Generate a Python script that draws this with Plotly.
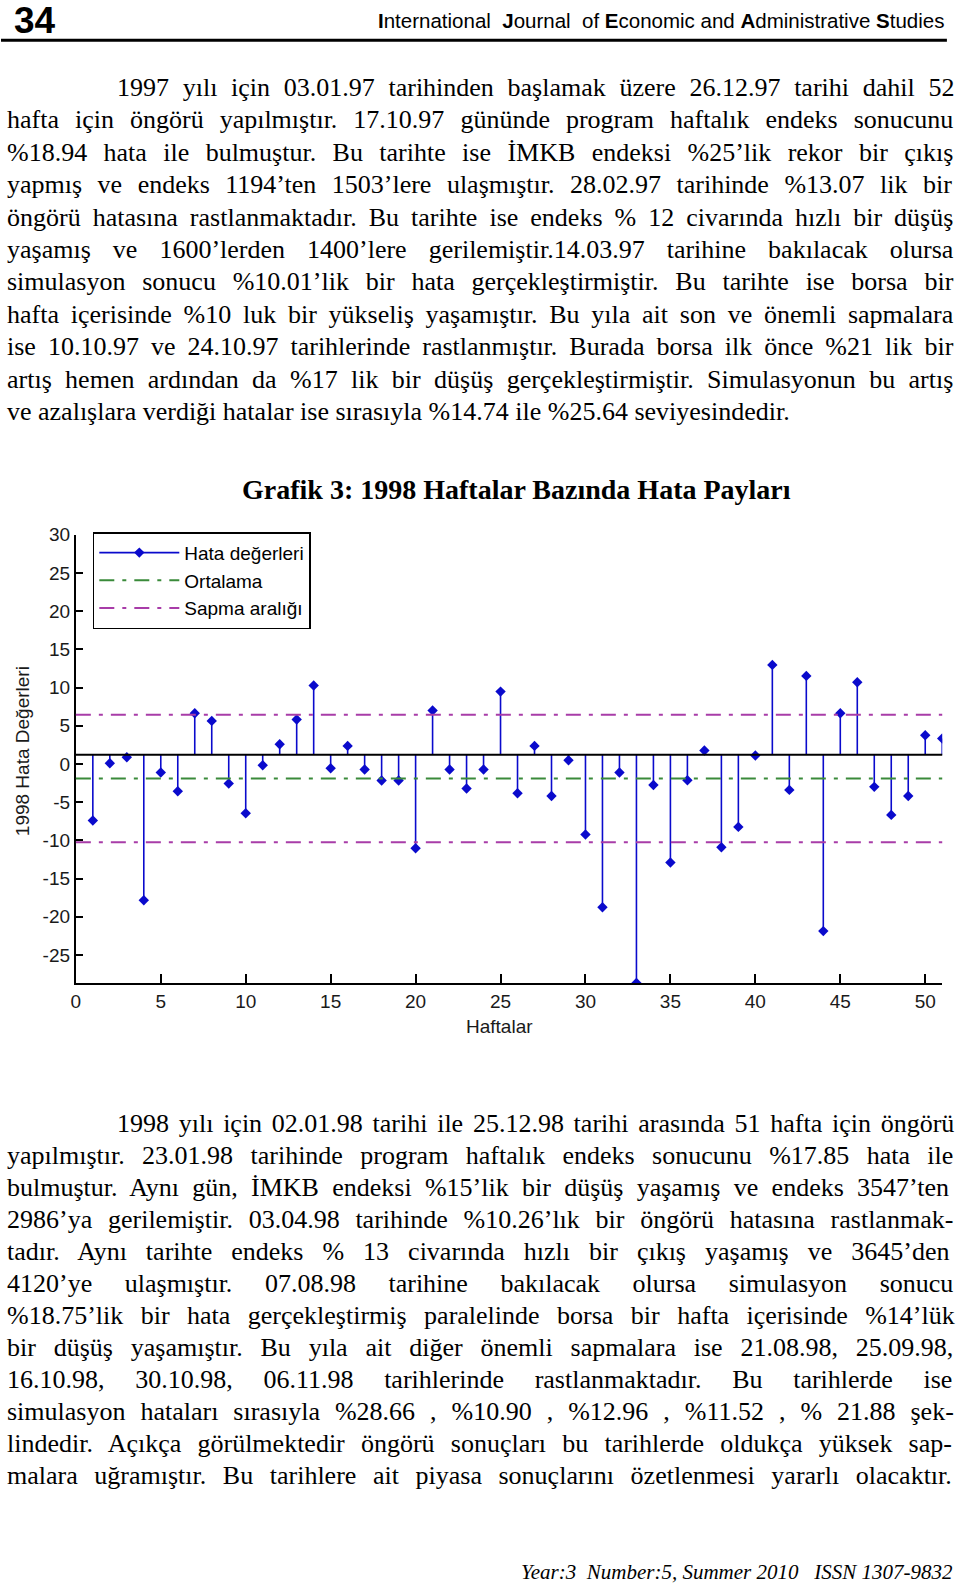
import numpy as np
import plotly.graph_objects as go

# 1998 weekly forecast errors (Grafik 3)
weeks = list(range(1, 52))
errors = [-7.41, 0.09, 0.88, -17.85, -1.13, -3.57, 6.64, 5.63, -2.57, -6.45,
          -0.17, 2.58, 5.81, 10.26, -0.56, 2.36, -0.73, -2.17, -2.17, -11.03,
          6.99, -0.73, -3.22, -0.73, 9.47, -3.84, 2.36, -4.19, 0.48, -9.24,
          -18.75, -1.13, -28.66, -2.75, -12.90, -2.13, 1.75, -10.90, -8.24, 1.10,
          12.96, -3.40, 11.52, -21.88, 6.64, 10.69, -3.00, -6.67, -4.19, 3.76, 3.32]
x_ticks = [0, 5, 10, 15, 20, 25, 30, 35, 40, 45, 50]
y_ticks = [-25, -20, -15, -10, -5, 0, 5, 10, 15, 20, 25, 30]
legend_names = ['Hata değerleri', 'Ortalama', 'Sapma aralığı']

para1 = [
    "1997 yılı için 03.01.97 tarihinden başlamak üzere 26.12.97 tarihi dahil 52",
    "hafta için öngörü yapılmıştır. 17.10.97 gününde program haftalık endeks sonucunu",
    "%18.94 hata ile bulmuştur. Bu tarihte ise İMKB endeksi %25’lik rekor bir çıkış",
    "yapmış ve endeks 1194’ten 1503’lere ulaşmıştır. 28.02.97 tarihinde %13.07 lik bir",
    "öngörü hatasına rastlanmaktadır. Bu tarihte ise endeks % 12 civarında hızlı bir düşüş",
    "yaşamış ve 1600’lerden 1400’lere gerilemiştir.14.03.97 tarihine bakılacak olursa",
    "simulasyon sonucu %10.01’lik bir hata gerçekleştirmiştir. Bu tarihte ise borsa bir",
    "hafta içerisinde %10 luk bir yükseliş yaşamıştır. Bu yıla ait son ve önemli sapmalara",
    "ise 10.10.97 ve 24.10.97 tarihlerinde rastlanmıştır. Burada borsa ilk önce %21 lik bir",
    "artış hemen ardından da %17 lik bir düşüş gerçekleştirmiştir. Simulasyonun bu artış",
    "ve azalışlara verdiği hatalar ise sırasıyla %14.74 ile %25.64 seviyesindedir.",
]
para2 = [
    "1998 yılı için 02.01.98 tarihi ile 25.12.98 tarihi arasında 51 hafta için öngörü",
    "yapılmıştır. 23.01.98 tarihinde program haftalık endeks sonucunu %17.85 hata ile",
    "bulmuştur. Aynı gün, İMKB endeksi %15’lik bir düşüş yaşamış ve endeks 3547’ten",
    "2986’ya gerilemiştir. 03.04.98 tarihinde %10.26’lık bir öngörü hatasına rastlanmak-",
    "tadır. Aynı tarihte endeks % 13 civarında hızlı bir çıkış yaşamış ve 3645’den",
    "4120’ye ulaşmıştır. 07.08.98 tarihine bakılacak olursa simulasyon sonucu",
    "%18.75’lik bir hata gerçekleştirmiş paralelinde borsa bir hafta içerisinde %14’lük",
    "bir düşüş yaşamıştır. Bu yıla ait diğer önemli sapmalara ise 21.08.98, 25.09.98,",
    "16.10.98, 30.10.98, 06.11.98 tarihlerinde rastlanmaktadır. Bu tarihlerde ise",
    "simulasyon hataları sırasıyla %28.66 , %10.90 , %12.96 , %11.52 , % 21.88 şek-",
    "lindedir. Açıkça görülmektedir öngörü sonuçları bu tarihlerde oldukça yüksek sap-",
    "malara uğramıştır. Bu tarihlere ait piyasa sonuçlarını özetlenmesi yararlı olacaktır.",
]

W, H = 960, 1586
BASELINE = 1.2
BLUE = '#0a0acc'
GREEN = '#3a8a3a'
PURPLE = '#a83ca8'
DASH = '15px,8px,4px,8px'
SERIF = 'Liberation Serif, Times New Roman, serif'
SANS = 'Liberation Sans, Arial, sans-serif'
NARROW = 'Liberation Sans Narrow, Arial Narrow, Liberation Sans, sans-serif'
TXT_SIZE = 26

# page placement correction (measured from earlier renders)
OFF_X, OFF_Y, SC_X, SC_Y = 4.0, 6.7, 0.997, 0.9938

# Times (Liberation Serif) advance widths, used to justify lines
_tw = {' ': 250, '%': 833, '’': 333, ',': 250, '-': 333, '.': 250, ':': 278,
       'A': 722, 'B': 667, 'Ç': 667, 'I': 333, 'İ': 333, 'K': 722, 'M': 889,
       'S': 556, 'a': 444, 'b': 500, 'c': 444, 'ç': 444, 'd': 500, 'e': 444,
       'f': 333, 'g': 500, 'ğ': 500, 'h': 500, 'ı': 278, 'i': 278, 'k': 500,
       'l': 278, 'm': 778, 'n': 500, 'o': 500, 'ö': 500, 'p': 500, 'r': 333,
       's': 389, 'ş': 389, 't': 278, 'u': 500, 'ü': 500, 'v': 500, 'y': 500,
       'z': 444}


def text_width(s, size):
    return sum(_tw.get(c, 500) for c in s) / 1000 * size


def px(x):
    return ((x - OFF_X) / SC_X) / W


def py(y):
    return 1 - ((y - OFF_Y) / SC_Y) / H


annotations = []


def add_line(text, x0, x1, y, justify=True):
    t = text
    if justify and text.count(' '):
        span = (x1 - x0) / SC_X
        ws = (span - text_width(text, TXT_SIZE)) / text.count(' ')
        t = f'<span style="word-spacing:{ws:.2f}px">{text}</span>'
    annotations.append(dict(text=t, x=px(x0), y=py(y), xref='paper', yref='paper',
                            xanchor='left', yanchor='middle', showarrow=False,
                            borderpad=0, font=dict(family=SERIF, size=TXT_SIZE, color='black')))


LEFT, RIGHT, INDENT = 5, 950, 115
for i, line in enumerate(para1):
    add_line(line, INDENT if i == 0 else LEFT, RIGHT, 84 + i * 32.45,
             justify=i < len(para1) - 1)
for i, line in enumerate(para2):
    add_line(line, INDENT if i == 0 else LEFT, RIGHT, 1120 + i * 32.0)

# header / footer / titles
annotations += [
    dict(text='<b>34</b>', x=px(11), y=py(17), xanchor='left', yanchor='middle',
         font=dict(family=NARROW, size=37, color='black')),
    dict(text='<b>I</b>nternational  <b>J</b>ournal  of <b>E</b>conomic and '
              '<b>A</b>dministrative <b>S</b>tudies',
         x=px(947), y=py(17), xanchor='right', yanchor='middle',
         font=dict(family=NARROW, size=20.5, color='black')),
    dict(text='<i>Year:3\u00a0 Number:5, Summer 2010\u00a0\u00a0 ISSN 1307-9832</i>',
         x=px(956), y=py(1569), xanchor='right', yanchor='middle',
         font=dict(family=SERIF, size=21, color='black')),
    dict(text='<b>Grafik 3: 1998 Haftalar Bazında Hata Payları</b>',
         x=px(517), y=py(486), xanchor='center', yanchor='middle',
         font=dict(family=SERIF, size=28, color='black')),
    dict(text='1998 Hata Değerleri', textangle=-90, x=px(21), y=py(748),
         xanchor='center', yanchor='middle', font=dict(family=SANS, size=19, color='#1a1a1a')),
    dict(text='Haftalar', x=px(500), y=py(1023), xanchor='center', yanchor='middle',
         font=dict(family=SANS, size=19, color='#1a1a1a')),
]
for a in annotations[-6:]:
    a.update(xref='paper', yref='paper', showarrow=False)

fig = go.Figure()

# stems from the baseline to each error value
stem_x, stem_y = [], []
for w, e in zip(weeks, errors):
    stem_x += [w, w, None]
    stem_y += [BASELINE, e, None]
fig.add_trace(go.Scatter(x=stem_x, y=stem_y, mode='lines', line=dict(color=BLUE, width=1.6),
                         showlegend=False, hoverinfo='skip'))
fig.add_trace(go.Scatter(x=weeks, y=errors, mode='markers', showlegend=False,
                         marker=dict(symbol='diamond', size=8, color=BLUE)))

mean = float(np.mean(errors))
sd = float(np.std(errors, ddof=1))
fig.add_hline(y=BASELINE, line=dict(color='black', width=2))
fig.add_hline(y=mean, line=dict(color=GREEN, width=2, dash=DASH))
fig.add_hline(y=mean + sd, line=dict(color=PURPLE, width=2, dash=DASH))
fig.add_hline(y=mean - sd, line=dict(color=PURPLE, width=2, dash=DASH))

# legend entries
fig.add_trace(go.Scatter(x=[None], y=[None], mode='lines+markers', name=legend_names[0],
                         legendgroup='a', line=dict(color=BLUE, width=1.6),
                         marker=dict(symbol='diamond', size=8, color=BLUE)))
fig.add_trace(go.Scatter(x=[None], y=[None], mode='lines', name=legend_names[1],
                         legendgroup='b', line=dict(color=GREEN, width=2, dash=DASH)))
fig.add_trace(go.Scatter(x=[None], y=[None], mode='lines', name=legend_names[2],
                         legendgroup='c', line=dict(color=PURPLE, width=2, dash=DASH)))

axis_common = dict(showgrid=False, zeroline=False, showline=True, linecolor='black',
                   linewidth=2, ticks='inside', tickcolor='black', tickwidth=2,
                   tickfont=dict(family=SANS, size=19, color='#1a1a1a'))
fig.update_xaxes(domain=[px(75), px(943.3)], range=[0, 51], tickvals=x_ticks,
                 ticklen=9, **axis_common)
fig.update_yaxes(domain=[py(979.7), py(531.5)], range=[min(errors), 30], tickvals=y_ticks,
                 ticktext=[str(v) for v in y_ticks], ticklen=7, **axis_common)

fig.update_layout(
    width=W, height=H,
    margin=dict(l=0, r=0, t=0, b=0),
    paper_bgcolor='white', plot_bgcolor='white',
    annotations=annotations,
    showlegend=True,
    legend=dict(x=px(92), y=py(529), xanchor='left', yanchor='top',
                bgcolor='white', bordercolor='black', borderwidth=1.5,
                font=dict(family=SANS, size=19, color='black'),
                tracegroupgap=0, itemwidth=80),
    shapes=list(fig.layout.shapes) + [
        dict(type='line', xref='paper', yref='paper', x0=px(0), x1=px(948),
             y0=py(37), y1=py(37), line=dict(color='black', width=3)),
    ],
)

# pin the graph to the top-left corner of the page
pin = ("document.documentElement.style.margin='0';"
       "document.body.style.margin='0';document.body.style.padding='0';"
       "document.body.style.overflow='hidden';"
       "var g=document.getElementsByClassName('plotly-graph-div')[0];"
       "g.style.position='fixed';g.style.left='0px';g.style.top='0px';")
fig.write_html("out.html", config={'displayModeBar': False}, post_script=pin)
